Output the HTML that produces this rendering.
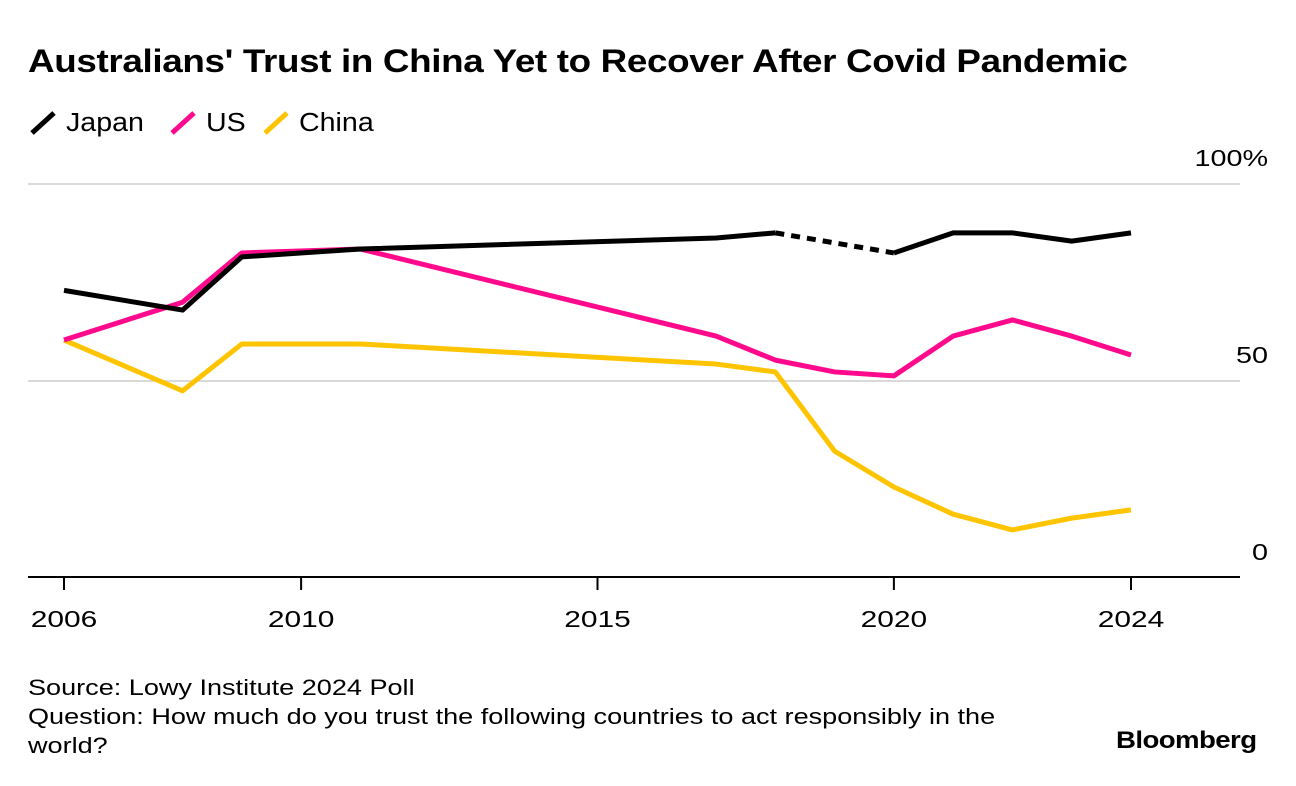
<!DOCTYPE html>
<html><head><meta charset="utf-8"><style>
body{margin:0;background:#fff;font-family:"Liberation Sans",sans-serif;color:#000;}
#wrap{position:relative;width:1296px;height:786px;overflow:hidden;}
.t{position:absolute;white-space:nowrap;transform-origin:left top;}
</style></head><body>
<div id="wrap">
<div class="t" style="left:28px;top:43px;font-size:32px;font-weight:bold;letter-spacing:-0.3px;transform:scaleX(1.15);">Australians' Trust in China Yet to Recover After Covid Pandemic</div>
<svg id="chart" width="1296" height="786" style="position:absolute;left:0;top:0"></svg>
<div class="t" style="left:28px;top:673px;font-size:22px;line-height:29px;transform:scaleX(1.23);">Source: Lowy Institute 2024 Poll<br>Question: How much do you trust the following countries to act responsibly in the<br>world?</div>
<div class="t" style="left:1116px;top:727px;font-size:24px;font-weight:bold;letter-spacing:-0.5px;transform:scaleX(1.15);">Bloomberg</div>
</div>
<script>
const years=[2006,2008,2009,2011,2017,2018,2019,2020,2021,2022,2023,2024];
const japan=[73,68,81.5,83.5,86.3,87.6,null,82.5,87.6,87.6,85.5,87.6];
const us=[60.4,70,82.5,83.5,61.4,55.3,52.3,51.3,61.4,65.5,61.4,56.6];
const china=[60.4,47.5,59.4,59.4,54.3,52.3,32.2,23.1,16.2,12.2,15.2,17.3];
const yTicks=[0,50,100];
const yTickLabels=["0","50","100%"];
const xTicks=[2006,2010,2015,2020,2024];
const NS="http://www.w3.org/2000/svg";
const svg=document.getElementById('chart');
const x=v=>64+(v-2006)*(1131-64)/18;
const y=v=>578-v*(578-184)/100;
function el(t,a){const e=document.createElementNS(NS,t);for(const k in a)e.setAttribute(k,a[k]);svg.appendChild(e);return e;}
yTicks.forEach((v,i)=>{
 if(v>0){const g=el('line',{x1:28,x2:1240,y1:y(v),y2:y(v),stroke:'#d9d9d9','stroke-width':2});
 
 }
 const t=el('text',{transform:`translate(1268,${y(v)-18}) scale(1.25,1)`,'text-anchor':'end','font-size':23,'font-family':'Liberation Sans, sans-serif'});
 t.textContent=yTickLabels[i];
 
 
});
const ax=el('line',{x1:28,x2:1240,y1:577,y2:577,stroke:'#000','stroke-width':2});


xTicks.forEach(v=>{
 const tk=el('line',{x1:x(v),x2:x(v),y1:577,y2:590,stroke:'#000','stroke-width':2});
 
 
 const t=el('text',{transform:`translate(${x(v)},627) scale(1.3,1)`,'text-anchor':'middle','font-size':23,'font-family':'Liberation Sans, sans-serif'});
 t.textContent=v;
 
 
});
function drawSeries(vals,color,name){
 let segs=[],cur=[];
 vals.forEach((v,i)=>{if(v==null){if(cur.length)segs.push(cur);cur=[];}else cur.push([x(years[i]),y(v)]);});
 if(cur.length)segs.push(cur);
 segs.forEach(s=>{const p=el('polyline',{points:s.map(q=>q.join(',')).join(' '),fill:'none',stroke:color,'stroke-width':5,'stroke-linejoin':'round'});
 
 });
 for(let i=0;i<vals.length;i++){if(vals[i]==null){let a=i-1,b=i+1;
  const d=el('line',{x1:x(years[a]),y1:y(vals[a]),x2:x(years[b]),y2:y(vals[b]),stroke:color,'stroke-width':5,'stroke-dasharray':'9 7'});
  
  }}
}
drawSeries(china,'#ffc400','china');
drawSeries(us,'#ff0a8c','us');
drawSeries(japan,'#000','japan');
const legend=[['Japan','#000',30],['US','#ff0a8c',170],['China','#ffc400',263]];
legend.forEach(([n,c,lx])=>{
 const l=el('line',{x1:lx+2,y1:133,x2:lx+24,y2:113,stroke:c,'stroke-width':5});
 
 
 const t=el('text',{transform:`translate(${lx+36},131) scale(1.1,1)`,'font-size':26,'font-family':'Liberation Sans, sans-serif'});
 t.textContent=n;
 
 
});
</script>
</body></html>
